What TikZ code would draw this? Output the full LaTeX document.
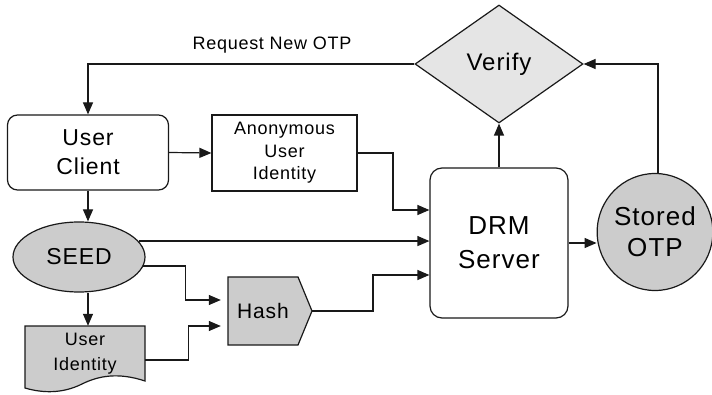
\documentclass[tikz,border=0pt]{standalone}
\usepackage{fontspec}
\setmainfont{Liberation Sans}[LetterSpace=4]
\usetikzlibrary{arrows.meta,shapes.geometric}
\newcommand\fsz[2]{\fontsize{#1}{#2}\selectfont}
\tikzset{
  conn/.style={draw=black!90, line width=1.2pt},
  arr/.style={conn, -{Triangle[length=12pt,width=10pt]}},
  boxbase/.style={draw=black!90, line width=1.2pt, align=center, inner sep=0pt},
  shadefill/.style={fill=black!20},
  lightfill/.style={fill=black!10},
}
\begin{document}
\begin{tikzpicture}[x=1pt,y=-1pt]
\useasboundingbox (0,0) rectangle (712,395);

% processes and data
\node[boxbase, rounded corners=10pt, minimum width=161pt, minimum height=75pt,
      font=\fsz{23}{29}] (client) at (88,152.5) {User\\Client};
\node[boxbase, minimum width=145pt, minimum height=76pt,
      font=\fsz{18}{22.5}] (anon) at (284.5,153) {Anonymous\\User\\Identity};
\node[boxbase, shadefill, ellipse, minimum width=132pt, minimum height=70pt,
      font=\fsz{23}{28}] (seed) at (79,257) {SEED};
\node[boxbase, rounded corners=12pt, minimum width=138pt, minimum height=150pt,
      font=\fsz{26}{34}] (drm) at (499,243) {DRM\\Server};
\node[boxbase, shadefill, ellipse, minimum width=110pt, minimum height=117pt,
      font=\fsz{26}{31}] (stored) at (655,232) {Stored\\OTP};
\node[boxbase, lightfill, diamond, minimum width=168pt, minimum height=118pt,
      font=\fsz{24}{28}] (verify) at (499,64) {Verify};

% hash: pentagon pointing right
\filldraw[draw=black!90, line width=1.2pt, fill=black!20]
  (228,277) -- (298,277) -- (312,311) -- (298,345) -- (228,345) -- cycle;
\node[inner sep=0pt, minimum width=84pt, minimum height=68pt,
      font=\fsz{21}{25}] (hash) at (263,311) {Hash};
\coordinate (hashtip) at (312,311);

% user identity: document shape with wavy bottom
\filldraw[draw=black!90, line width=1.2pt, fill=black!20]
  (25,326) -- (145,326) -- (145,381)
  .. controls (118,372) and (98,376) .. (82,384)
  .. controls (62,394) and (42,393) .. (25,388) -- cycle;
\node[inner sep=0pt, minimum width=120pt, minimum height=55pt, align=center,
      font=\fsz{18}{25}] (uid) at (85,353.5) {User\\Identity};

% connectors
\draw[arr] (verify.west) -| (client.north);
\node[font=\fsz{18}{22}] (req) at (272,45) {Request New OTP};
\draw[arr] (client.east) -- (anon.west);
\draw[arr] (client.south) -- (client.south |- seed.north);
\draw[arr] (client.south |- seed.south) -- (client.south |- uid.north);
\draw[arr] (seed.15) -- (seed.15 -| drm.west);
\draw[arr] (seed.-8) -- ++(42,0) |- ([yshift=11pt]hash.west);
\draw[arr] ([yshift=-6.5pt]uid.east) -- ++(43,0) |- ([yshift=-15pt]hash.west);
\draw[arr] (hashtip) -- (373,311) |- ([yshift=-32pt]drm.west);
\draw[arr] (anon.east) -- (393,153) |- ([yshift=33pt]drm.west);
\draw[arr] (drm.north) -- (verify.south);
\draw[arr] (drm.east) -- (drm.east -| stored.west);
\draw[arr] ([xshift=3pt]stored.north) |- (verify.east);
\end{tikzpicture}
\end{document}
